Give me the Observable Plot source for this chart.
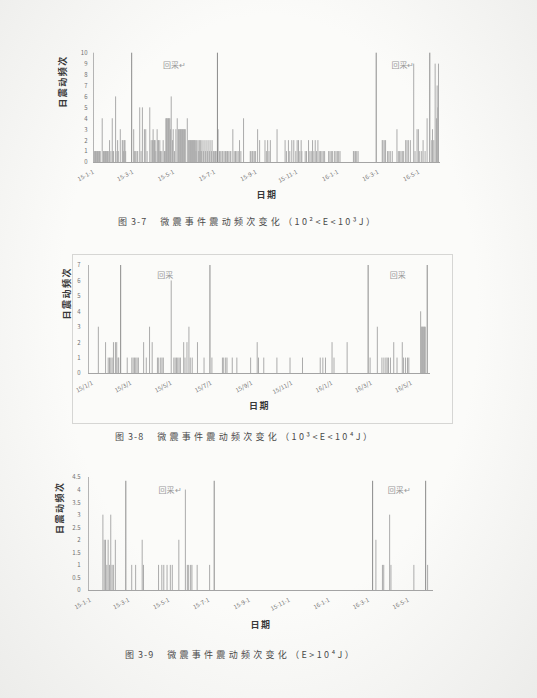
<!DOCTYPE html>
<html><head><meta charset="utf-8">
<script src="https://cdn.jsdelivr.net/npm/d3@7"></script>
<script src="https://cdn.jsdelivr.net/npm/@observablehq/plot@0.6"></script>
<style>
html,body{margin:0;padding:0;background:#f3f3f1;}
#page{position:relative;width:537px;height:698px;overflow:hidden;background:radial-gradient(ellipse at 50% 45%,#fbfbf9 55%,#ececea 100%);font-family:"Noto Sans CJK SC","Noto Sans",sans-serif;}
.chart{position:absolute;left:0;}
.cap{position:absolute;font-size:9px;line-height:12px;color:#4a4a4a;white-space:nowrap;}
.cap .nm{letter-spacing:1px;margin-right:13px;}
.cap .cj{letter-spacing:3.3px;}
.cap .lt{letter-spacing:2.4px;}
.frame{position:absolute;border:1px solid #d6d6d4;}
</style></head><body><div id="page"></div>
<script>
// ---------- data (days counted from 2015-01-01) ----------
const c1Days = [0,1,2,3,4,5,6,7,8,9,10,13,15,16,17,18,19,20,21,22,24,26,28,29,30,33,35,36,37,40,43,44,45,46,47,48,60,61,63,65,66,69,71,73,76,78,80,84,86,88,89,90,91,92,93,95,96,97,98,99,100,102,104,106,107,108,109,110,111,112,113,114,115,116,118,119,121,123,125,127,128,129,130,131,132,133,134,135,136,137,140,142,143,144,145,146,147,148,149,150,151,152,153,154,156,157,158,159,160,161,162,164,165,167,168,170,171,173,174,176,177,179,181,182,183,186,188,190,192,193,195,197,199,200,202,204,205,208,210,212,214,216,218,220,224,234,235,237,238,240,242,245,248,256,258,260,262,264,274,286,288,291,293,296,299,302,304,306,308,310,311,316,318,321,323,325,327,329,331,333,335,337,339,341,343,345,351,353,355,357,360,362,364,366,368,388,389,391,393,395,431,432,434,436,439,441,443,446,453,455,457,459,461,463,466,468,470,473,478,480,483,485,487,490,492,495,498,505,506,508,510,512,513,514,515];
const c1Counts = [1,1,1,1,1,1,1,1,1,1,1,4,1,1,1,1,1,1,1,1,2,1,4,1,1,6,1,2,1,3,2,2,1,2,2,1,3,1,1,1,1,5,1,5,3,3,1,5,2,2,3,2,2,2,1,3,2,2,1,2,1,1,2,1,1,4,4,4,4,4,4,4,3,6,2,3,1,3,4,3,3,3,3,3,3,3,3,3,3,3,4,2,2,2,2,2,2,2,2,2,2,2,1,2,2,1,2,1,2,1,2,1,2,1,2,1,2,1,2,1,2,1,1,1,1,3,1,1,1,1,1,1,1,1,1,1,1,3,1,1,1,1,2,1,4,1,1,1,1,1,1,3,2,2,1,2,1,2,3,2,1,2,1,2,2,1,2,2,1,2,1,1,1,2,1,1,2,1,2,1,2,1,1,1,1,1,1,1,1,1,1,1,1,1,1,1,1,1,1,1,2,2,2,2,1,1,1,1,3,1,1,1,1,1,2,2,2,2,9,1,3,3,1,1,2,1,4,2,3,2,9,4,7,5,9];
const c1LineDays = [57,185,422,502];

const c2Days = [9,20,24,26,28,30,32,35,37,39,40,53,60,62,64,66,68,70,78,82,87,91,99,101,104,106,108,120,124,126,128,130,132,134,139,141,144,147,149,152,160,170,182,198,200,203,205,213,220,241,251,253,261,281,301,320,347,351,355,365,368,388,423,434,441,444,447,449,451,454,459,464,472,474,477,480,482,500,501,502,503,504,505,506,507];
const c2Counts = [3,2,1,1,1,1,2,2,2,1,1,1,1,1,1,1,1,1,2,1,3,2,1,1,1,1,1,6,1,1,1,1,1,1,2,1,2,3,1,1,2,1,1,1,1,1,1,1,1,1,2,1,1,1,1,1,1,1,1,2,1,2,1,3,1,1,1,1,1,1,2,1,2,1,1,1,1,4,3,3,3,3,3,3,3];
const c2LineDays = [43,179,420,510];

const c3Days = [19,21,23,25,27,29,31,33,35,38,63,69,79,81,104,109,112,117,122,125,135,145,148,150,153,155,163,182,436,446,448,457,459,494,515];
const c3Counts = [3,2,2,1,2,1,3,1,1,2,1,1,2,1,1,1,1,1,1,1,2,4,1,1,1,1,1,1,2,1,1,3,1,1,1];
const c3LineDays = [54,189,431,512];
const c3LineTop = 4.35;

const c1Ticks = ["15-1-1","15-3-1","15-5-1","15-7-1","15-9-1","15-11-1","16-1-1","16-3-1","16-5-1"];
const c2Ticks = ["15/1/1","15/3/1","15/5/1","15/7/1","15/9/1","15/11/1","16/1/1","16/3/1","16/5/1"];
const c3Ticks = ["15-1-1","15-3-1","15-5-1","15-7-1","15-9-1","15-11-1","16-1-1","16-3-1","16-5-1"];
const c1YTicks = [0,1,2,3,4,5,6,7,8,9,10];
const c2YTicks = [0,1,2,3,4,5,6,7];
const c3YTicks = [0,0.5,1,1.5,2,2.5,3,3.5,4,4.5];

const c1Labels = ["回采↵","回采↵"];
const c2Labels = ["回采","回采"];
const c3Labels = ["回采↵","回采↵"];

const capNums = ["图 3-7", "图 3-8", "图 3-9"];
const capTitle = "微震事件震动频次变化";
const capRanges = ["（10²<E<10³J）", "（10³<E<10⁴J）", "（E>10⁴J）"];

// ---------- helpers ----------
const FONT = '"Noto Sans CJK SC","Noto Sans",sans-serif';
const BASE = Date.UTC(2015,0,1), DAY = 864e5;
const toDate = d => new Date(BASE + d*DAY);
const parse = s => new Date(s + "T00:00:00Z");
const parseTick = s => { const [y,m,d] = s.split(/[-\/]/).map(Number); return new Date(Date.UTC(2000+y, m-1, d)); };
const page = document.getElementById("page");

function drawChart(o) {
  const bars = o.days.map((d,i)=>({date: toDate(d), count: o.counts[i]}));
  const lines = o.lineDays.map(d=>({date: toDate(d), top: o.lineTop}));
  const labels = o.labels.map((t,i)=>({date: toDate((o.lineDays[2*i]+o.lineDays[2*i+1])/2), text: t}));
  const tickDates = o.ticks.map(parseTick);
  const fmt = new Map(tickDates.map((d,i)=>[+d, o.ticks[i]]));
  const svg = Plot.plot({
    width: 537, height: o.height,
    marginTop: o.m[0], marginRight: o.m[1], marginBottom: o.m[2], marginLeft: o.m[3],
    style: {background: "transparent", fontFamily: FONT, fontSize: "6px", color: "#707070", overflow: "visible"},
    x: {type: "utc", domain: o.domain.map(parse), ticks: tickDates, tickFormat: d => fmt.get(+d), tickRotate: -28, tickSize: 0, tickPadding: 9, label: null},
    y: {domain: [0, o.yTicks[o.yTicks.length-1]], ticks: o.yTicks, tickFormat: d => String(d), tickSize: 0, tickPadding: o.yPad, label: null},
    marks: [
      Plot.ruleX(bars, {x: "date", y1: 0, y2: "count", stroke: "#ababab", strokeWidth: 1}),
      Plot.ruleX(lines, {x: "date", y1: 0, y2: "top", stroke: "#8a8a8a", strokeWidth: 1}),
      Plot.ruleY([0], {stroke: "#a4a4a4"}),
      Plot.ruleX([parse(o.domain[0])], {stroke: "#b4b4b4"}),
      Plot.text(labels, {x: "date", text: "text", frameAnchor: "top", dy: o.labelDy, fill: "#999999", fontSize: 8}),
      Plot.text(["日期"], {text: d => d, frameAnchor: "bottom", dy: o.xLabelDy, fill: "#383838", fontSize: 9, fontWeight: "bold"}),
      Plot.text(["日震动频次"], {text: d => d, frameAnchor: "left", dx: o.yLabelDx, rotate: -90, fill: "#383838", fontSize: 9, fontWeight: "bold"})
    ]
  });
  svg.classList.add("chart");
  svg.style.top = o.top + "px";
  d3.select(svg).selectAll("text").filter(function(){ return /[\u4e00-\u9fff]/.test(this.textContent) && this.textContent.length > 1 && !/采/.test(this.textContent); }).attr("letter-spacing", "1.5");
  page.appendChild(svg);
}

// chart 2 frame
const fr = document.createElement("div");
fr.className = "frame";
Object.assign(fr.style, {left: "72px", top: "254px", width: "379px", height: "168px"});
page.appendChild(fr);

drawChart({days: c1Days, counts: c1Counts, lineDays: c1LineDays, lineTop: 10, labels: c1Labels, ticks: c1Ticks, yTicks: c1YTicks,
  domain: ["2015-01-01","2016-06-02"], top: 40, height: 175, m: [12.7, 97, 53, 93], yPad: 6, labelDy: 9.5, xLabelDy: 35, yLabelDx: -30});
drawChart({days: c2Days, counts: c2Counts, lineDays: c2LineDays, lineTop: 7, labels: c2Labels, ticks: c2Ticks, yTicks: c2YTicks,
  domain: ["2014-12-26","2016-05-30"], top: 250, height: 170, m: [15, 107, 47, 88], yPad: 8, labelDy: 7, xLabelDy: 35, yLabelDx: -21});
drawChart({days: c3Days, counts: c3Counts, lineDays: c3LineDays, lineTop: c3LineTop, labels: c3Labels, ticks: c3Ticks, yTicks: c3YTicks,
  domain: ["2014-12-29","2016-06-08"], top: 465, height: 175, m: [12, 104, 50, 88], yPad: 8, labelDy: 10, xLabelDy: 37, yLabelDx: -28});

const capPos = [[118, 216], [115, 431], [125, 649]];
capNums.forEach((n,i)=>{
  const c = document.createElement("div");
  c.className = "cap";
  c.style.left = capPos[i][0] + "px";
  c.style.top = capPos[i][1] + "px";
  const z = document.createElement("span"); z.className = "nm"; z.textContent = n;
  const a = document.createElement("span"); a.className = "cj"; a.textContent = capTitle;
  const b = document.createElement("span"); b.className = "lt"; b.textContent = capRanges[i];
  c.appendChild(z); c.appendChild(a); c.appendChild(b);
  page.appendChild(c);
});
</script>
</body></html>
